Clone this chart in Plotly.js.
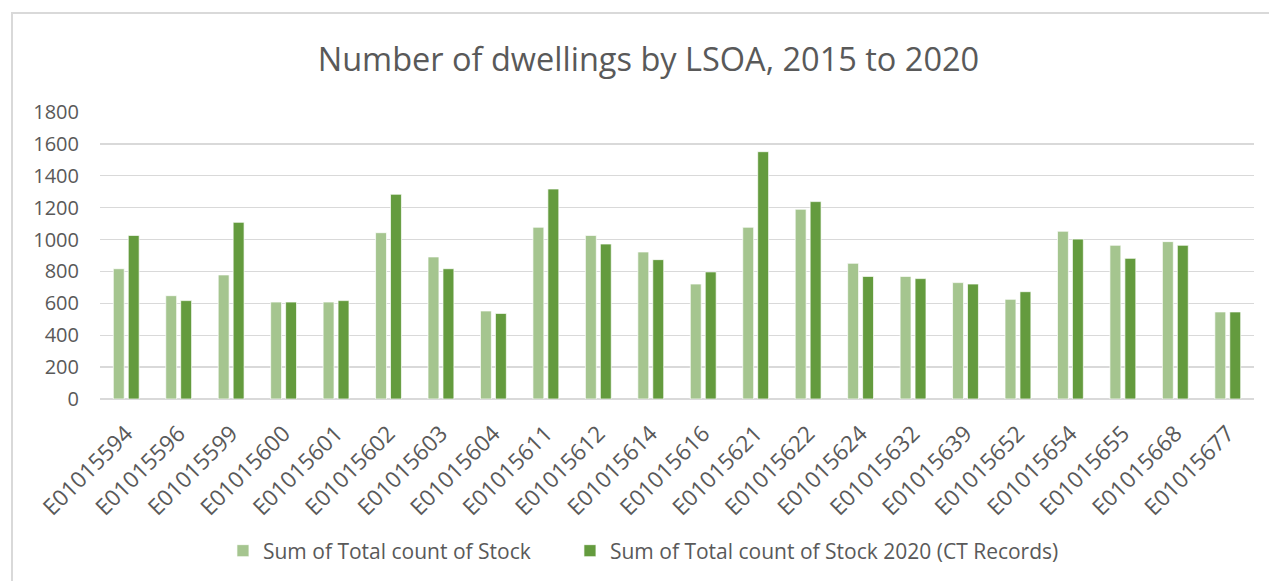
<!DOCTYPE html>
<html>
<head>
<meta charset="utf-8">
<script src="https://cdn.plot.ly/plotly-3.0.1.min.js"></script>
<style>
  html, body { margin: 0; padding: 0; background: #fff; }
  #chart { width: 1269px; height: 581px; position: absolute; left: 0; top: 0; }
  #frame { position: absolute; left: 11px; top: 12px; width: 1300px; height: 600px;
           border-left: 2px solid #d9d9d9; border-top: 2px solid #d9d9d9; pointer-events: none; }
</style>
</head>
<body>
<div id="chart"></div>
<div id="frame"></div>
<script>
const categories = ["E01015594","E01015596","E01015599","E01015600","E01015601","E01015602",
  "E01015603","E01015604","E01015611","E01015612","E01015614","E01015616","E01015621",
  "E01015622","E01015624","E01015632","E01015639","E01015652","E01015654","E01015655",
  "E01015668","E01015677"];
const stockTotal = [817, 648, 778, 608, 608, 1043, 891, 552, 1077, 1026, 922, 721, 1077,
  1190, 851, 769, 730, 625, 1052, 964, 987, 546];
const stock2020 = [1026, 617, 1108, 608, 617, 1284, 817, 537, 1317, 972, 874, 797, 1551,
  1238, 769, 755, 721, 673, 1003, 882, 964, 546];
const seriesNames = ["Sum of Total count of Stock", "Sum of Total count of Stock 2020 (CT Records)"];
const yTicks = [0, 200, 400, 600, 800, 1000, 1200, 1400, 1600, 1800];

const font = "'Open Sans', Lato, sans-serif";
const textColor = "#595959";

const traces = [
  { type: "bar", x: categories, y: stockTotal, name: seriesNames[0], legendwidth: 302,
    marker: { color: "#a5c58f", line: { color: "#ffffff", width: 0.7 } } },
  { type: "bar", x: categories, y: stock2020, name: seriesNames[1],
    marker: { color: "#649b3e", line: { color: "#ffffff", width: 0.7 } } }
];

const layout = {
  width: 1269, height: 581,
  margin: { l: 100, r: 15, t: 112, b: 182 },
  paper_bgcolor: "rgba(0,0,0,0)", plot_bgcolor: "rgba(0,0,0,0)",
  barmode: "group", bargap: 0.43, bargroupgap: 0.27,
  font: { family: font, color: textColor, size: 20 },
  title: { text: "Number of dwellings by LSOA, 2015 to 2020",
    font: { family: font, size: 32.5, color: textColor },
    xref: "container", yref: "container", x: 0.511, y: 0.898, xanchor: "center", yanchor: "middle" },
  xaxis: { tickangle: -45, showgrid: false, showline: false, zeroline: false,
    ticks: "", ticklabelstandoff: 16,
    tickfont: { family: font, size: 22.5, color: textColor }, automargin: false },
  yaxis: { range: [0, 1800], tickvals: yTicks, ticktext: yTicks.map(String),
    showgrid: true, gridcolor: "#d9d9d9", gridwidth: 1.3, zeroline: true, zerolinecolor: "#d9d9d9",
    zerolinewidth: 1.3, showline: false, ticks: "", ticklabelstandoff: 20,
    tickfont: { family: font, size: 20, color: textColor }, automargin: false },
  legend: { orientation: "h", xref: "container", yref: "container",
    x: 0.1757, xanchor: "left", y: 0.0516, yanchor: "middle",
    font: { family: font, size: 21, color: textColor }, itemwidth: 30, tracegroupgap: 0,
    itemclick: false },
  showlegend: true
};

Plotly.newPlot("chart", traces, layout, { displayModeBar: false, staticPlot: true });
</script>
</body>
</html>
